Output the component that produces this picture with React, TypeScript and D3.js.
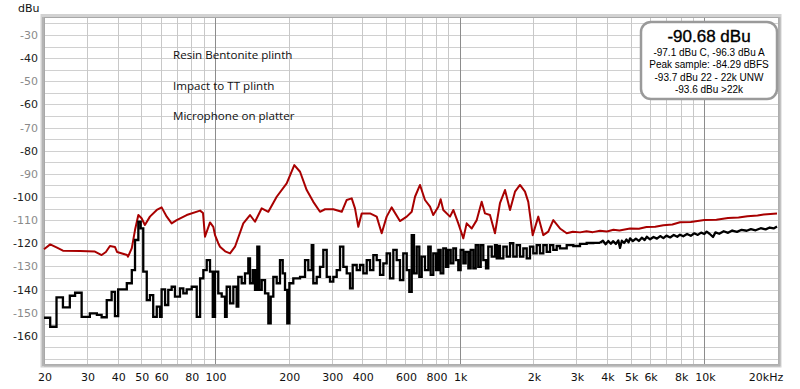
import React, { useEffect, useRef } from "react";
import * as d3 from "d3";

// frequency response readings, [Hz, dBu]
const redTrace: [number, number][] = [
  [20, -122.6], [21.2, -120.5], [22.5, -121.8], [23.9, -123.2], [28.1, -123.4], [32.3, -123.6],
  [34.4, -125.1], [35.8, -123.8], [37.2, -121.2], [39.0, -121.6], [39.8, -123.8], [43.7, -125.1],
  [44.1, -125.8], [45.7, -122.1], [47.1, -114.3], [48.6, -107.8], [50.1, -109.2], [51.7, -112.1],
  [54.2, -108.5], [57.8, -105.6], [60.5, -104.5], [63.5, -108.5], [66.5, -111.4], [69.7, -110.0],
  [76.6, -107.8], [86.9, -105.9], [89.3, -106.9], [91.0, -117.2], [95.4, -111.0], [98.4, -112.9],
  [100, -116.5], [103.1, -120.0], [104.8, -121.5], [110, -123.5], [115.2, -124.4], [120.7, -121.5],
  [130.5, -111.4], [139.0, -107.8], [145.7, -110.7], [155.2, -104.9], [165.2, -106.4], [178.7, -99.9],
  [196.3, -94.1], [210.9, -86.2], [222.6, -89.1], [237.0, -97.0], [252.2, -102.1], [268.6, -106.4],
  [281.6, -105.3], [304.4, -105.3], [329.6, -106.4], [345.4, -101.3], [362.0, -100.6], [373.4, -104.9],
  [385.2, -112.9], [397.6, -107.1], [430, -107.1], [458, -108.5], [480, -115.7], [503, -108.5],
  [527, -104.5], [570, -110.4], [607.6, -108.5], [636.8, -106.4], [656.8, -99.9], [688.4, -94.8],
  [721.4, -101.3], [756.4, -104.2], [780, -107.8], [818, -104.2], [836, -101.0], [857, -105.6],
  [913, -108.5], [942, -105.6], [987, -111.4], [1035, -117.9], [1068, -111.4], [1120, -113.6],
  [1174, -110.0], [1230, -102.1], [1269, -107.1], [1330, -107.8], [1394, -115.7], [1461, -102.7],
  [1532, -97.0], [1606, -105.6], [1683, -97.7], [1764, -94.8], [1849, -97.7], [1907, -102.1],
  [1988, -116.5], [2096, -108.5], [2197, -116.5], [2302, -115.0], [2413, -110.0], [2570, -113.6],
  [2738, -115.7], [2900, -115.0], [3103, -115.3], [3300, -114.8], [3500, -115.2], [3746, -114.6],
  [4000, -114.9], [4250, -114.2], [4500, -114.5], [4970, -113.6], [5400, -113.7], [5800, -113.0],
  [6300, -112.9], [6800, -112.2], [7400, -111.9], [7952, -110.9], [8800, -110.8], [10000, -110.0],
  [11200, -109.8], [12500, -109.1], [13800, -108.9], [15000, -108.3], [16500, -108.0], [17500, -107.6],
  [19812, -107.1],
];

// stepped FFT bins of the black trace, [bin start Hz, dBu]
const blackSteps: [number, number][] = [
  [20, -152.2], [21.2, -156.1], [22.5, -143.4], [23.9, -147.7], [25.5, -142.7], [26.8, -141.4],
  [28.5, -151.8], [30.8, -150.3], [32.9, -151.0], [34.4, -152.0], [36.1, -144.6], [37.8, -141.0],
  [39.0, -151.5], [40.2, -139.9], [43.6, -137.3], [45.7, -131.6], [47.1, -118.6], [48.6, -110.7],
  [49.7, -113.6], [50.9, -132.3], [52.6, -144.6], [54.2, -142.4], [55.9, -151.8], [57.8, -147.4],
  [59.6, -151.8], [60.5, -139.9], [62.5, -146.7], [64.4, -140.2], [66.5, -138.8], [68.6, -143.1],
  [71.9, -139.5], [74.2, -141.7], [76.6, -139.9], [80.3, -138.8], [84.2, -151.8], [86.9, -135.2],
  [89.6, -131.6], [92.5, -127.3], [95.4, -132.3], [97.9, -151.8], [100, -132.3], [103.1, -141.7],
  [106.5, -143.1], [109.9, -151.8], [111.6, -138.8], [115.2, -146.0], [118.8, -138.8], [122.6, -147.4],
  [124.5, -134.5], [128.5, -137.3], [132.6, -133.0], [136.8, -126.5], [139.0, -137.3], [142.6, -131.6],
  [145.7, -140.2], [148.9, -121.5], [151.7, -140.2], [155.2, -135.9], [160.1, -141.7], [165.2, -154.6],
  [168.9, -143.1], [173.1, -134.5], [178.7, -137.3], [184.3, -127.3], [189.1, -133.0], [193.2, -140.2],
  [197.4, -154.6], [201.4, -137.3], [208.9, -135.2], [222.6, -134.5], [233.3, -127.3], [240.6, -131.6],
  [248.5, -120.8], [252.2, -137.3], [260.4, -134.5], [268.6, -130.2], [277.1, -122.9], [286.1, -134.5],
  [295.1, -136.6], [304.4, -134.5], [314.3, -131.6], [324.3, -121.5], [334.5, -130.2], [345.4, -133.0],
  [356.3, -139.5], [365.4, -129.4], [379.4, -131.6], [391.4, -129.4], [403.8, -133.0], [416.9, -127.3],
  [430.1, -131.6], [443.7, -125.1], [458.0, -127.3], [472.5, -133.7], [487.5, -128.7], [503.0, -124.4],
  [519.0, -135.2], [535.5, -122.9], [552.7, -127.3], [570.1, -135.9], [588.2, -124.4], [607.6, -131.6],
  [622.5, -141.0], [636.8, -116.5], [650.5, -133.0], [667.4, -121.5], [683.9, -134.5], [699.6, -125.8],
  [721.4, -131.6], [744.2, -121.5], [761.1, -133.7], [780, -124.4], [800.4, -131.6], [818, -122.9],
  [836, -133.0], [857, -122.2], [879, -130.2], [898, -122.9], [919, -128.7], [942, -122.2],
  [966, -127.3], [987, -131.6], [1009, -122.9], [1035, -128.7], [1058, -123.7], [1085, -130.8],
  [1109, -122.9], [1137, -130.8], [1163, -120.8], [1191, -130.2], [1219, -120.8], [1249, -127.3],
  [1281, -130.8], [1309, -121.5], [1352, -125.8], [1394, -120.8], [1417, -126.5], [1438, -121.2],
  [1461, -126.5], [1508, -121.5], [1557, -125.8], [1606, -120.0], [1656, -125.8], [1710, -120.8],
  [1764, -125.8], [1820, -122.2], [1879, -126.5], [1938, -121.5], [1999, -124.4], [2064, -120.8],
  [2129, -124.4], [2197, -120.8], [2268, -123.7], [2340, -120.8], [2413, -122.9], [2492, -121.2],
  [2570, -122.2], [2738, -120.8], [2913, -121.2], [3103, -120.3], [3304, -119.9], [3516, -119.8],
  [3746, -119.8],
];

// dense high end of the black trace, [Hz, dBu]
const blackHigh: [number, number][] = [
  [3746, -119.8], [3850, -118.9], [3950, -120.4], [4050, -119.0], [4150, -120.2], [4234, -119.1],
  [4350, -120.3], [4450, -118.8], [4522, -122.0], [4600, -118.9], [4700, -119.9], [4800, -118.4],
  [4900, -119.6], [4970, -117.9], [5100, -119.1], [5250, -118.0], [5400, -119.0], [5550, -117.6],
  [5700, -118.6], [5813, -117.2], [6000, -118.3], [6200, -117.3], [6400, -118.0], [6600, -116.9],
  [6800, -117.8], [7000, -116.7], [7250, -117.5], [7500, -116.4], [7750, -117.2], [7952, -116.3],
  [8200, -117.0], [8500, -116.0], [8800, -116.8], [9100, -115.7], [9400, -116.4], [9700, -115.4],
  [10000, -116.0], [10218, -115.0], [10500, -115.9], [10850, -117.3], [11100, -115.3], [11500, -115.9],
  [12000, -114.8], [12500, -115.5], [13000, -114.5], [13600, -115.1], [14200, -114.2], [14900, -114.6],
  [15500, -113.9], [16200, -114.4], [17000, -113.5], [17800, -114.0], [18500, -113.2], [19200, -113.6],
  [19812, -112.8],
];

const xTickLabels = [20, 30, 40, 50, 60, 80, 100, 200, 300, 400, 600, 800, 1000, 2000, 3000, 4000, 5000, 6000, 8000, 10000, 20000];
const yTickLabels = [-30, -40, -50, -60, -70, -80, -90, -100, -110, -120, -130, -140, -150, -160];
const notes = ["Resin Bentonite plinth", "Impact to TT plinth", "Microphone on platter"];
const headline = "-90.68 dBu";
const readouts = ["-97.1 dBu C, -96.3 dBu A", "Peak sample: -84.29 dBFS", "-93.7 dBu 22 - 22k UNW", "-93.6 dBu >22k"];

const W = 800;
const H = 389;
const margin = { top: 17, right: 22, bottom: 25, left: 44 };

function fmtFreq(f: number) {
  if (f === 20000) return "20kHz";
  return f >= 1000 ? f / 1000 + "k" : String(f);
}

export default function App() {
  const ref = useRef<SVGSVGElement>(null);

  useEffect(() => {
    document.body.style.margin = "0";
    const svg = d3.select(ref.current);
    svg.selectAll("*").remove();

    const x0 = margin.left, x1 = W - margin.right;
    const y0 = margin.top, y1 = H - margin.bottom;

    const x = d3.scaleLog().domain([20, 20000]).range([x0, x1]);
    const y = d3.scaleLinear().domain([-172.2, -22.2]).range([y1, y0]);

    svg.append("rect").attr("width", W).attr("height", H).attr("fill", "#fff");

    // frame with a soft shadow
    svg.append("rect")
      .attr("x", x0 - 2).attr("y", y0 - 1.5).attr("width", x1 - x0 + 4).attr("height", y1 - y0 + 3.5)
      .attr("fill", "none").attr("stroke", "#d2d2d2").attr("stroke-width", 3);

    const grid = svg.append("g");
    d3.range(-170, -20, 5).forEach(v => {
      grid.append("line")
        .attr("x1", x0).attr("x2", x1).attr("y1", Math.round(y(v)) + 0.5).attr("y2", Math.round(y(v)) + 0.5)
        .attr("stroke", "#d0d0d0").attr("stroke-width", 1);
    });
    const vlines: number[] = [];
    [10, 100, 1000, 10000].forEach(d => d3.range(1, 10).forEach(m => {
      const f = d * m;
      if (f >= 20 && f <= 20000) vlines.push(f);
    }));
    vlines.forEach(f => {
      const major = f === 100 || f === 1000 || f === 10000;
      grid.append("line")
        .attr("x1", Math.round(x(f)) + 0.5).attr("x2", Math.round(x(f)) + 0.5).attr("y1", y0).attr("y2", y1)
        .attr("stroke", major ? "#8c8c8c" : "#c8c8c8").attr("stroke-width", 1);
    });

    svg.append("rect")
      .attr("x", x0 + 0.5).attr("y", y0 + 0.5).attr("width", x1 - x0).attr("height", y1 - y0)
      .attr("fill", "none").attr("stroke", "#a8a8a8");
    svg.append("line").attr("x1", x0 - 1).attr("x2", x0 - 1).attr("y1", y0).attr("y2", y1 + 2)
      .attr("stroke", "#b4b4b4").attr("stroke-width", 2);
    svg.append("line").attr("x1", x0).attr("x2", x1 + 2).attr("y1", y1 + 1.5).attr("y2", y1 + 1.5)
      .attr("stroke", "#b4b4b4").attr("stroke-width", 2);
    svg.append("line").attr("x1", x1 + 1.5).attr("x2", x1 + 1.5).attr("y1", y0).attr("y2", y1 + 2)
      .attr("stroke", "#b4b4b4").attr("stroke-width", 2);

    // axes text
    const axisFont = "DejaVu Sans, sans-serif";
    svg.append("text").attr("x", 18).attr("y", 12).attr("font-family", axisFont).attr("font-size", 11)
      .attr("fill", "#111").text("dBu");
    yTickLabels.forEach((v, i) => {
      svg.append("text").attr("x", 38).attr("y", y(v) + 4).attr("text-anchor", "end")
        .attr("font-family", axisFont).attr("font-size", 11)
        .attr("fill", i % 2 === 0 ? "#8a8a8a" : "#222").text(String(v));
    });
    xTickLabels.forEach(f => {
      svg.append("text").attr("x", f === 20000 ? x(f) - 12 : x(f) + 1).attr("y", 381).attr("text-anchor", "middle")
        .attr("font-family", axisFont).attr("font-size", 11).attr("fill", "#111").text(fmtFreq(f));
    });

    // traces
    const lineLin = d3.line<[number, number]>().x(d => x(d[0])).y(d => y(d[1]));
    const lineStep = d3.line<[number, number]>().x(d => x(d[0])).y(d => y(d[1])).curve(d3.curveStepAfter);

    svg.append("path").attr("d", lineLin(redTrace)).attr("fill", "none")
      .attr("stroke", "#a80000").attr("stroke-width", 2).attr("stroke-linejoin", "round");
    svg.append("path").attr("d", lineStep(blackSteps)).attr("fill", "none")
      .attr("stroke", "#000").attr("stroke-width", 2.3);
    svg.append("path").attr("d", lineLin(blackHigh)).attr("fill", "none")
      .attr("stroke", "#000").attr("stroke-width", 2.3).attr("stroke-linejoin", "round");

    // notes
    notes.forEach((t, i) => {
      svg.append("text").attr("x", 173).attr("y", 59 + i * 30.5)
        .attr("font-family", "Open Sans, sans-serif").attr("font-size", 11.6).attr("fill", "#111").text(t);
    });

    // readout box
    const bx = 641, by = 22, bw = 136, bh = 77;
    svg.append("rect").attr("x", bx).attr("y", by).attr("width", bw).attr("height", bh).attr("rx", 10)
      .attr("fill", "#fff").attr("stroke", "#9a9a9a").attr("stroke-width", 2.5);
    const cx = bx + bw / 2;
    svg.append("text").attr("x", cx).attr("y", 42).attr("text-anchor", "middle")
      .attr("font-family", "Liberation Sans, Arial, sans-serif").attr("font-size", 17).attr("fill", "#000")
      .attr("stroke", "#000").attr("stroke-width", 0.35)
      .text(headline);
    readouts.forEach((t, i) => {
      svg.append("text").attr("x", cx).attr("y", 56 + i * 12.4).attr("text-anchor", "middle")
        .attr("font-family", "Liberation Sans, Arial, sans-serif").attr("font-size", 10).attr("fill", "#000")
        .text(t);
    });
  }, []);

  return <svg ref={ref} width={W} height={H} style={{ display: "block" }} />;
}
